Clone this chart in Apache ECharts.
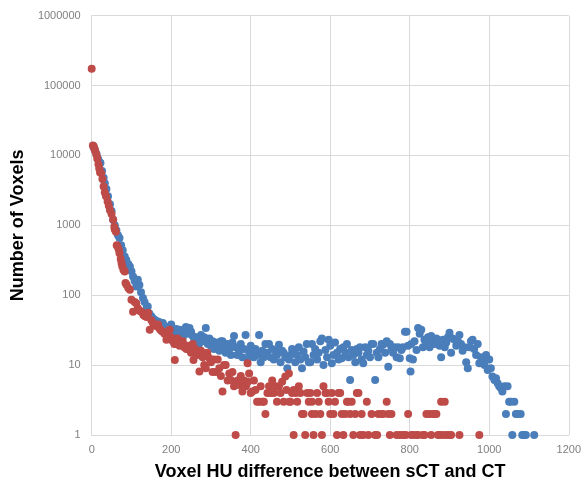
<!DOCTYPE html>
<html>
<head>
<meta charset="utf-8">
<script src="https://cdn.jsdelivr.net/npm/echarts@6/dist/echarts.min.js"></script>
<style>html,body{margin:0;padding:0;background:#fff}#c{width:584px;height:486px}</style>
</head>
<body>
<div id="c"></div>
<script>
// x tick labels
var xTicks = [0, 200, 400, 600, 800, 1000, 1200];
var yTicks = [1, 10, 100, 1000, 10000, 100000, 1000000];

// Series 1 (blue)
var blueHU = [5,8,12,16,20,22,26,30,33,37,41,46,50,54,58,62,66,70,74,78,83,87,92,96,100,104,108,112,116,120,124,129,133,138,141,145,150,155,160,166,171,175,179,183,188,192,196,200,205,209,213,217,221,225,229,233,237,241,246,250,254,258,262,266,270,275,279,283,287,292,296,300,304,308,312,317,321,325,329,333,337,341,346,350,354,358,362,366,371,375,379,383,387,392,396,400,404,408,412,417,421,425,429,433,437,441,446,450,454,458,462,466,471,475,479,483,487,492,496,500,504,508,512,517,521,525,529,533,537,541,546,550,554,558,562,567,571,575,579,583,588,592,596,600,604,608,612,617,621,625,629,633,638,642,646,650,654,658,663,667,671,675,679,683,688,692,696,700,704,708,713,717,721,725,729,733,738,742,746,750,754,758,762,767,771,775,779,783,788,792,796,800,802,804,808,812,817,821,825,829,833,837,842,846,850,854,858,863,867,871,875,879,883,888,892,896,900,904,908,913,917,921,925,929,933,938,942,946,950,954,958,962,967,971,975,979,983,988,992,996,1000,1004,1008,1013,1017,1021,1025,1029,1033,1038,1042,1046,1050,1054,1058,1063,1067,1071,1079,1083,1088,1092,1113];
var blueCount = [13000,12000,10500,9000,8000,7800,6000,4800,4000,3300,2600,2000,1600,1200,1000,850,720,660,520,440,357,320,280,257,220,186,160,133,166,140,110,91,80,65,69,55,50,46,44,42,41,38,40,36,33,35,30,38,31,29,33,27,32,28,25,30,35,28,34,30,26,22,25,23,20,27,22,25,34,20,24,19,22,17,21,19,16,22,22,18,15,20,17,14,21,26,18,14,16,20,13,17,27,12,15,19,15,13,17,14,27,11,16,13,20,15,20,13,17,12,16,14,19.5,11,16,15,13,9,12,14,17,16.5,11,14,18,12,9,15.6,13,20,11,11,20,14,17,12,15,22,24,10,16.5,13,23,19,10.6,14,21,15,12,17,12.5,18,15,20,13,6.1,16.5,14,11,17,15,18,12,10.6,18,14,16,13,20,20,6.1,15,13,17,20,19.5,15,22,9.5,20,17,15,18,13,18,12.5,16.5,18,30,30,19,12.5,8.1,20,12,22,16.5,34,28,32,18,23,20,25,18,26,22,20,24,22,19,13,23,18,21,25,29,15,24,23,19,22,27,20,16,18,11,9,18,22,23,17,14,20,10.6,13,12,10,14,8.5,12,9,6.9,6.1,6.5,5.5,5,4.7,4.2,5,2,5,3,3,1,3,2,2,2,1,1,1,1];

// Series 2 (red)
var redHU = [0,3,5,7,9,12,14,17,19,21,24,27,30,33,36,40,43,46,50,54,57,58,61,63,65,68,70,73,75,77,80,83,85,88,92,96,100,104,108,112,116,120,125,130,134,138,142,146,150,154,158,163,167,171,175,179,183,188,192,196,200,204,208,209,212,216,221,225,229,233,238,242,246,250,254,256,260,265,271,275,279,283,287,291,296,300,304,308,312,317,321,325,329,333,337,342,346,350,354,358,362,367,371,375,379,383,388,392,393,396,400,404,408,412,416,421,425,429,433,437,442,446,450,454,458,462,466,471,475,479,483,487,490,496,497,500,504,508,508,513,517,521,525,529,533,537,542,546,550,554,554,558,563,567,571,575,579,583,588,592,596,600,604,608,612,617,621,625,629,633,638,642,646,650,654,658,663,667,671,675,679,683,692,696,704,713,718,721,729,733,742,746,750,754,767,775,783,790,796,804,808,817,821,833,837,842,850,854,858,863,867,871,875,879,883,888,892,900,904,925,975];
var redCount = [174000,13900,13500,12500,11500,10200,9000,7500,6500,5700,5600,4600,3600,2950,2600,2200,1900,1650,1450,1200,950,870,810,520,500,450,400,330,290,257,230,218,150,140,127,120,86,58,80,77,65,60,58,52,50,49,56,32,44,40,38,36,38,33,31,30,28,23,26,32,25,22,20,11.8,20,24,19,21,22,18,17,19,16.5,15,20,11.8,17,14,8.1,16,13,10,9,15,12.5,11,8,12,8,12,9,7,4.2,10,10,6,7.6,6.1,8,5,1,6,5.2,7,4.2,6,5,10.6,5.8,7.6,4,4.2,6,4.4,3,3,5,3,3,2,4,5,4,6,4,5,3,5,4,5.8,3,6.9,4.4,7.6,3,3,4,4.4,1,4,3,5,4,2,2,1,4,3,4,3,2,1,2,4,3,2,1,5,4,4,3,2,4,2,3,1,4,4,2,1,2,3,3,2,3,1,2,4,4,1,2,1,3,1,2,1,1,2,2,2,3,2,1,2,1,1,1,1,2,1,1,1,1,1,1,2,2,1,2,2,2,1,1,3,1,3,1,1,1,1,1];

function pairs(xs, ys) {
  var out = [];
  for (var i = 0; i < xs.length; i++) out.push([xs[i], ys[i]]);
  return out;
}

var chart = echarts.init(document.getElementById('c'), null, {renderer: 'canvas'});
var labelColor = '#808080';
var gridColor = '#d9d9d9';
chart.setOption({
  animation: false,
  backgroundColor: '#ffffff',
  grid: {left: 91.7, right: 12.3, top: 15.7, bottom: 51, containLabel: false},
  xAxis: {
    type: 'value', min: xTicks[0], max: xTicks[xTicks.length - 1], interval: 200,
    name: 'Voxel HU difference between sCT and CT',
    nameLocation: 'middle', nameGap: 28,
    nameTextStyle: {fontFamily: 'Liberation Sans', fontWeight: 'bold', fontSize: 18, color: '#000'},
    axisLine: {show: true, lineStyle: {color: gridColor}},
    axisTick: {show: false},
    splitLine: {show: true, lineStyle: {color: gridColor, width: 1}},
    axisLabel: {color: labelColor, fontFamily: 'Liberation Sans', fontSize: 11, margin: 9,
      formatter: function (v) { return String(Math.round(v)); }}
  },
  yAxis: {
    type: 'log', logBase: 10, min: yTicks[0], max: yTicks[yTicks.length - 1],
    name: 'Number of Voxels',
    nameLocation: 'middle', nameGap: 58,
    nameTextStyle: {fontFamily: 'Liberation Sans', fontWeight: 'bold', fontSize: 18, color: '#000'},
    axisLine: {show: true, lineStyle: {color: gridColor}},
    axisTick: {show: false},
    minorSplitLine: {show: false},
    splitLine: {show: true, lineStyle: {color: gridColor, width: 1}},
    axisLabel: {color: labelColor, fontFamily: 'Liberation Sans', fontSize: 11, margin: 11,
      formatter: function (v) { return String(Math.round(v)); }}
  },
  series: [
    {type: 'scatter', name: 'Series1', data: pairs(blueHU, blueCount), symbolSize: 8,
     itemStyle: {color: '#4a7ebb', opacity: 1}},
    {type: 'scatter', name: 'Series2', data: pairs(redHU, redCount), symbolSize: 8,
     itemStyle: {color: '#be4b48', opacity: 1}}
  ]
});
</script>
</body>
</html>
